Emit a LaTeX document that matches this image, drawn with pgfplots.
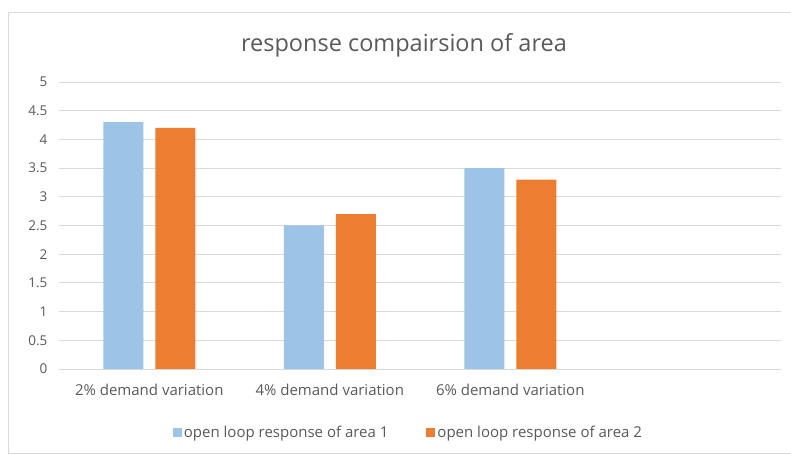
\documentclass[border=0pt]{standalone}
\usepackage{fontspec}
\setmainfont{Open Sans}
\usepackage{pgfplots}
\pgfplotsset{compat=1.18}
\definecolor{barblue}{HTML}{9DC3E6}
\definecolor{barorange}{HTML}{ED7D31}
\definecolor{txt}{HTML}{595959}
\definecolor{gridc}{HTML}{D9D9D9}

\begin{document}
\begin{tikzpicture}
\path[use as bounding box] (-59pt,-85pt) rectangle (732pt,369pt);
\draw[gridc, line width=0.8pt] (732pt,357pt) -- (-51pt,357pt) -- (-51pt,-84pt) -- (732pt,-84pt);
\node[text=txt, font=\fontsize{23.5}{28}\selectfont] at (345pt,324pt) {response compairsion of area};
\begin{axis}[
  at={(0pt,0pt)}, anchor=south west,
  scale only axis, width=722pt, height=287pt,
  ybar=12pt, bar width=40pt,
  xmin=-0.5, xmax=3.5, ymin=0, ymax=5,
  xtick={0,1,2,3},
  xticklabels={2\% demand variation, 4\% demand variation, 6\% demand variation, {}},
  ytick={0,0.5,1,1.5,2,2.5,3,3.5,4,4.5,5},
  major tick length=0pt,
  ymajorgrids, grid style={gridc, line width=0.8pt},
  axis line style={draw=none},
  /pgf/number format/assume math mode=true,
  yticklabel style={font=\fontsize{13.5}{16}\selectfont, text=txt, xshift=-8pt},
  xticklabel style={font=\fontsize{15}{18}\selectfont, text=txt, yshift=-12pt},
  legend style={draw=none, at={(axis description cs:0.484,-0.222)}, anchor=center,
    font=\fontsize{15}{18}\selectfont, text=txt,
    /tikz/every even column/.append style={column sep=36pt}},
  legend columns=2,
  legend image code/.code={\fill[#1] (0pt,-4.5pt) rectangle (9pt,4.5pt);},
]
\addplot[fill=barblue, draw=none] coordinates {(0,4.3) (1,2.5) (2,3.5)};
\addlegendentry{open loop response of area 1}
\addplot[fill=barorange, draw=none] coordinates {(0,4.2) (1,2.7) (2,3.3)};
\addlegendentry{open loop response of area 2}
\end{axis}
\end{tikzpicture}
\end{document}
